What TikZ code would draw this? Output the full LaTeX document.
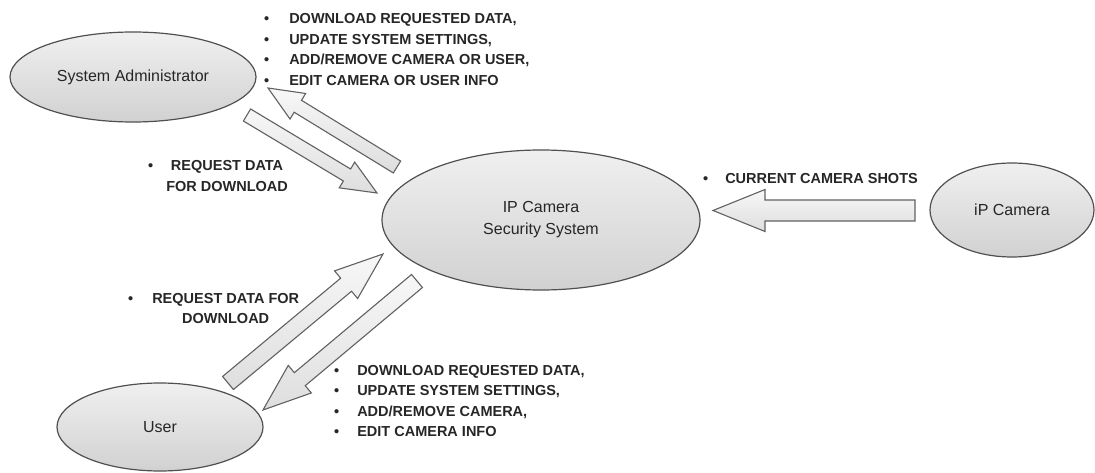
\documentclass[tikz,border=0pt]{standalone}
\usepackage{fontspec}
\setmainfont{Liberation Sans}
\usetikzlibrary{shapes.geometric,calc}
\definecolor{edge}{HTML}{505050}
\definecolor{txt}{HTML}{262626}
\tikzset{
  usecase/.style={ellipse, draw=edge, line width=1.2pt, top color=white!94!black,
    bottom color=white!82!black, inner sep=0pt, text=txt, align=center,
    font=\fontsize{16}{22}\selectfont},
  barrow/.style={draw=edge!90, line width=1.1pt, line join=miter,
    top color=white!97!black, bottom color=white!87!black},
  lbl/.style={inner sep=0pt, text=txt, anchor=base west,
    font=\bfseries\fontsize{14.5}{20.5}\selectfont},
}
% #1 start, #2 tip, #3 shaft half width, #4 head half width, #5 head length
\newcommand{\blockarr}[5]{%
  \draw[barrow] ($(#1)!#3!90:(#2)$)
    -- ($($(#2)!#5!(#1)$)!#3!90:(#2)$)
    -- ($($(#2)!#5!(#1)$)!#4!90:(#2)$)
    -- (#2)
    -- ($($(#2)!#5!(#1)$)!#4!-90:(#2)$)
    -- ($($(#2)!#5!(#1)$)!#3!-90:(#2)$)
    -- ($(#1)!#3!-90:(#2)$) -- cycle;}
\begin{document}
\begin{tikzpicture}[x=1pt,y=-1pt]
\useasboundingbox (0,0) rectangle (1095,473);

% use case ellipses
\node[usecase, minimum width=246pt, minimum height=90pt] (admin) at (133,77) {System Administrator};
\node[usecase, minimum width=318pt, minimum height=140pt] (sys) at (541,220) {IP Camera\\Security System};
\node[usecase, minimum width=164pt, minimum height=94pt] (cam) at (1012,210) {iP Camera};
\node[usecase, minimum width=206pt, minimum height=88pt] (user) at (160,427) {User};

% arrow end points
\coordinate (a1s) at (247,115);  \coordinate (a1e) at (377,193);
\coordinate (a2s) at (397,167);  \coordinate (a2e) at (268,88);
\coordinate (a3s) at (915,210.5);\coordinate (a3e) at (713,210.5);
\coordinate (a4s) at (228,383);  \coordinate (a4e) at (383,254);
\coordinate (a5s) at (417,281);  \coordinate (a5e) at (263,410);

\blockarr{a1s}{a1e}{7pt}{15pt}{35pt}
\blockarr{a2s}{a2e}{7pt}{15pt}{35pt}
\blockarr{a3s}{a3e}{10.5pt}{21pt}{52pt}
\blockarr{a4s}{a4e}{8.5pt}{18pt}{48pt}
\blockarr{a5s}{a5e}{8.5pt}{18pt}{48pt}

% labels
\node[lbl] (ladmin) at (264,24) {\begin{tabular}[t]{@{}l@{\hspace{20pt}}l@{}}
\textbullet & DOWNLOAD REQUESTED DATA,\\
\textbullet & UPDATE SYSTEM SETTINGS,\\
\textbullet & ADD/REMOVE CAMERA OR USER,\\
\textbullet & EDIT CAMERA OR USER INFO
\end{tabular}};

\node[lbl] (lreq1) at (148,171) {\begin{tabular}[t]{@{}l@{\hspace{13pt}}c@{}}
\textbullet & REQUEST DATA\\
 & FOR DOWNLOAD
\end{tabular}};

\node[lbl] (lshots) at (703,184) {\textbullet\hspace{17pt}CURRENT CAMERA SHOTS};

\node[lbl] (lreq2) at (128,303) {\begin{tabular}[t]{@{}l@{\hspace{19pt}}c@{}}
\textbullet & REQUEST DATA FOR\\
 & DOWNLOAD
\end{tabular}};

\node[lbl] (luser) at (334,375) {\begin{tabular}[t]{@{}l@{\hspace{18pt}}l@{}}
\textbullet & DOWNLOAD REQUESTED DATA,\\
\textbullet & UPDATE SYSTEM SETTINGS,\\
\textbullet & ADD/REMOVE CAMERA,\\
\textbullet & EDIT CAMERA INFO
\end{tabular}};
\end{tikzpicture}
\end{document}
